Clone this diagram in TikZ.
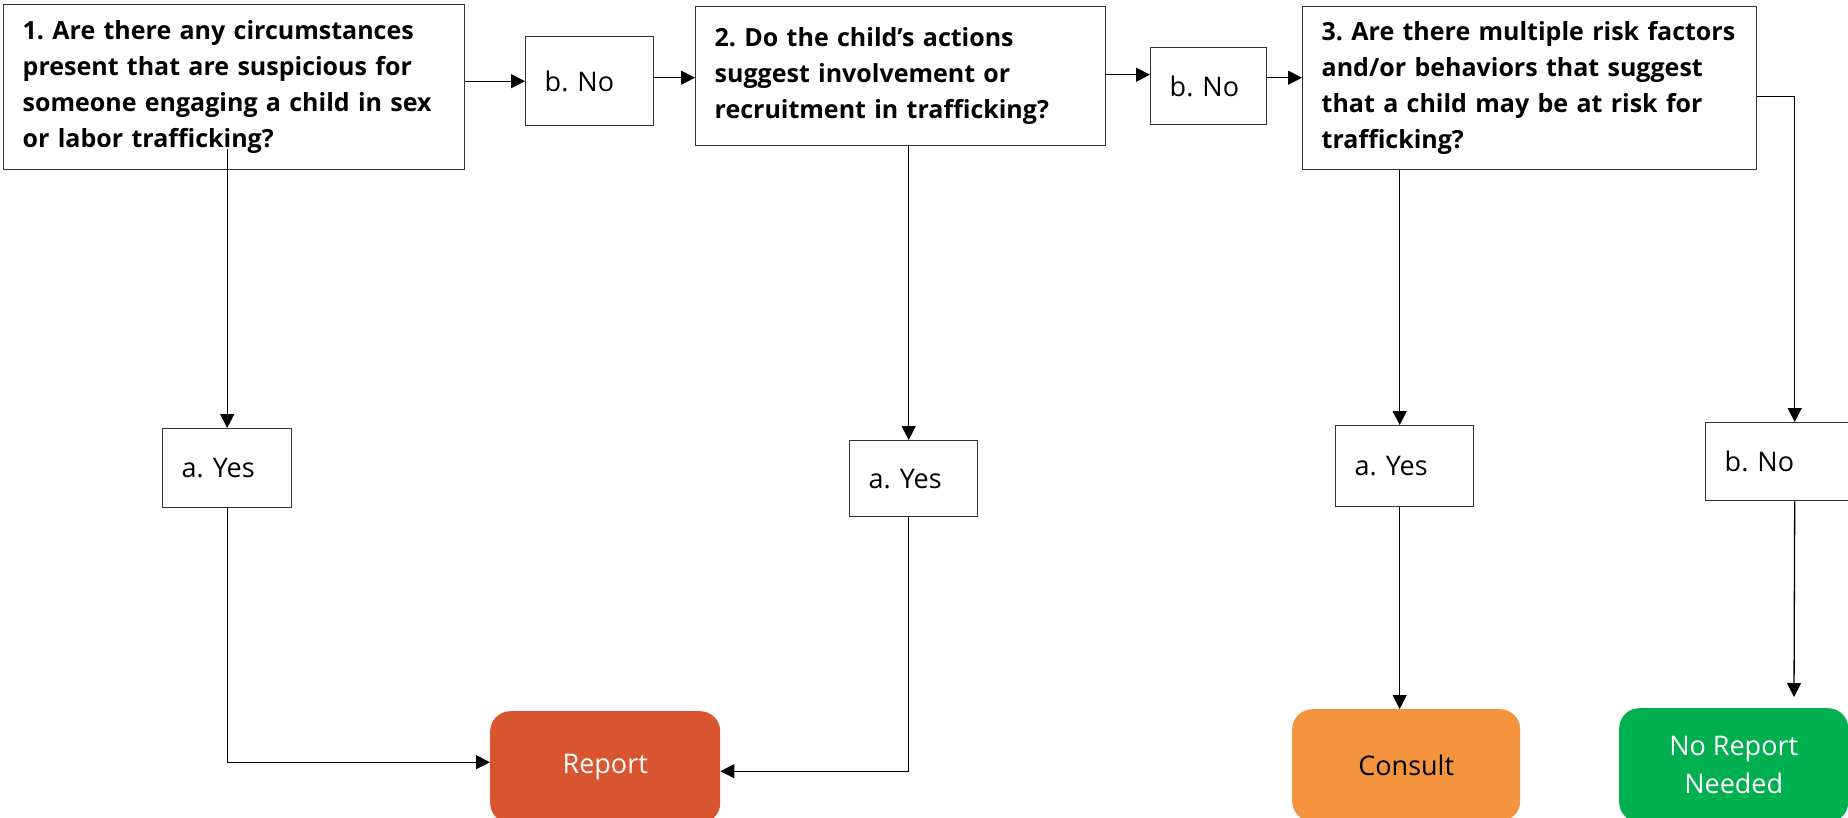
\documentclass[tikz,border=0pt]{standalone}
\usepackage{fontspec}
\setmainfont{Open Sans}
\usetikzlibrary{arrows.meta}
\definecolor{reportred}{HTML}{D9552F}
\definecolor{consultorange}{HTML}{F4943F}
\definecolor{okgreen}{HTML}{00AF50}
\frenchspacing
\hyphenpenalty=10000
\begin{document}
\begin{tikzpicture}[x=1pt,y=-1pt,
  qbox/.style={draw=black!80, line width=1.4pt, anchor=north west, align=left,
    inner xsep=19pt, inner ysep=0pt, font=\fontsize{25}{36}\selectfont\bfseries},
  abox/.style={draw=black!80, line width=1.4pt, anchor=north west, align=left,
    inner xsep=19pt, inner ysep=0pt, font=\fontsize{27}{36}\selectfont},
  endbox/.style={anchor=north west, rounded corners=20pt, align=center,
    inner sep=0pt, font=\fontsize{27}{38}\selectfont},
  arr/.style={draw=black, line width=1.3pt, -{Triangle[length=14pt,width=14pt]}}]
\useasboundingbox (0,0) rectangle (1848,817);

% question boxes
\node[qbox, text width=423pt, minimum height=165pt] (q1) at (3,4)
  {1. Are there any circumstances\\present that are suspicious for\\someone engaging a child in sex\\or labor trafficking?};
\node[qbox, text width=372pt, minimum height=139pt] (q2) at (695,6)
  {2. Do the child’s actions\\suggest involvement or\\recruitment in trafficking?};
\node[qbox, text width=416pt, minimum height=163pt] (q3) at (1302,6)
  {3. Are there multiple risk factors\\and/or behaviors that suggest\\that a child may be at risk for\\trafficking?};

% answer boxes
\node[abox, text width=90pt, minimum height=89pt] (n1) at (525,36) {b. No};
\node[abox, text width=78pt, minimum height=77pt] (n2) at (1150,47) {b. No};
\node[abox, text width=140pt, minimum height=78pt] (n3) at (1705,422) {b. No};
\node[abox, text width=91pt, minimum height=79pt] (y1) at (162,428) {a. Yes};
\node[abox, text width=90pt, minimum height=76pt] (y2) at (849,440) {a. Yes};
\node[abox, text width=100pt, minimum height=81pt] (y3) at (1335,425) {a. Yes};

% outcome boxes
\node[endbox, fill=reportred, text=white, minimum width=230pt, minimum height=112pt] (rep) at (490,711) {Report};
\node[endbox, fill=consultorange, text=black, minimum width=228pt, minimum height=112pt] (con) at (1292,709) {Consult};
\node[endbox, fill=okgreen, text=white, minimum width=229pt, minimum height=114pt] (nor) at (1619,708) {No Report\\Needed};
\coordinate (nortip) at (1794,697);

% horizontal "No" chain
\draw[arr] (n1.west -| q1.east) -- (n1.west);
\draw[arr] ([yshift=3.5pt]n1.east) -- ([yshift=3.5pt]n1.east -| q2.west);
\draw[arr] ([yshift=1.5pt]q2.east) -- ([yshift=1.5pt]q2.east -| n2.west);
\draw[arr] ([yshift=8.5pt]n2.east) -- ([yshift=8.5pt]n2.east -| q3.west);
\draw[arr] ([yshift=-8.5pt]q3.east) -| (n3.north);
\draw[arr] (n3.south) -- (nortip);

% "Yes" branches
\draw[arr] ([yshift=21pt]q1.south -| y1.north) -- (y1.north);
\draw[arr] (y1.south) |- ([yshift=5pt]rep.west);
\draw[arr] ([xshift=-5pt]y2.north |- q2.south) -- ([xshift=-5pt]y2.north);
\draw[arr] ([xshift=-5pt]y2.south) |- ([yshift=-4pt]rep.east);
\draw[arr] ([xshift=-5pt]y3.north |- q3.south) -- ([xshift=-5pt]y3.north);
\draw[arr] ([xshift=-5pt]y3.south) -- ([xshift=-5pt]y3.south |- con.north);
\end{tikzpicture}
\end{document}
